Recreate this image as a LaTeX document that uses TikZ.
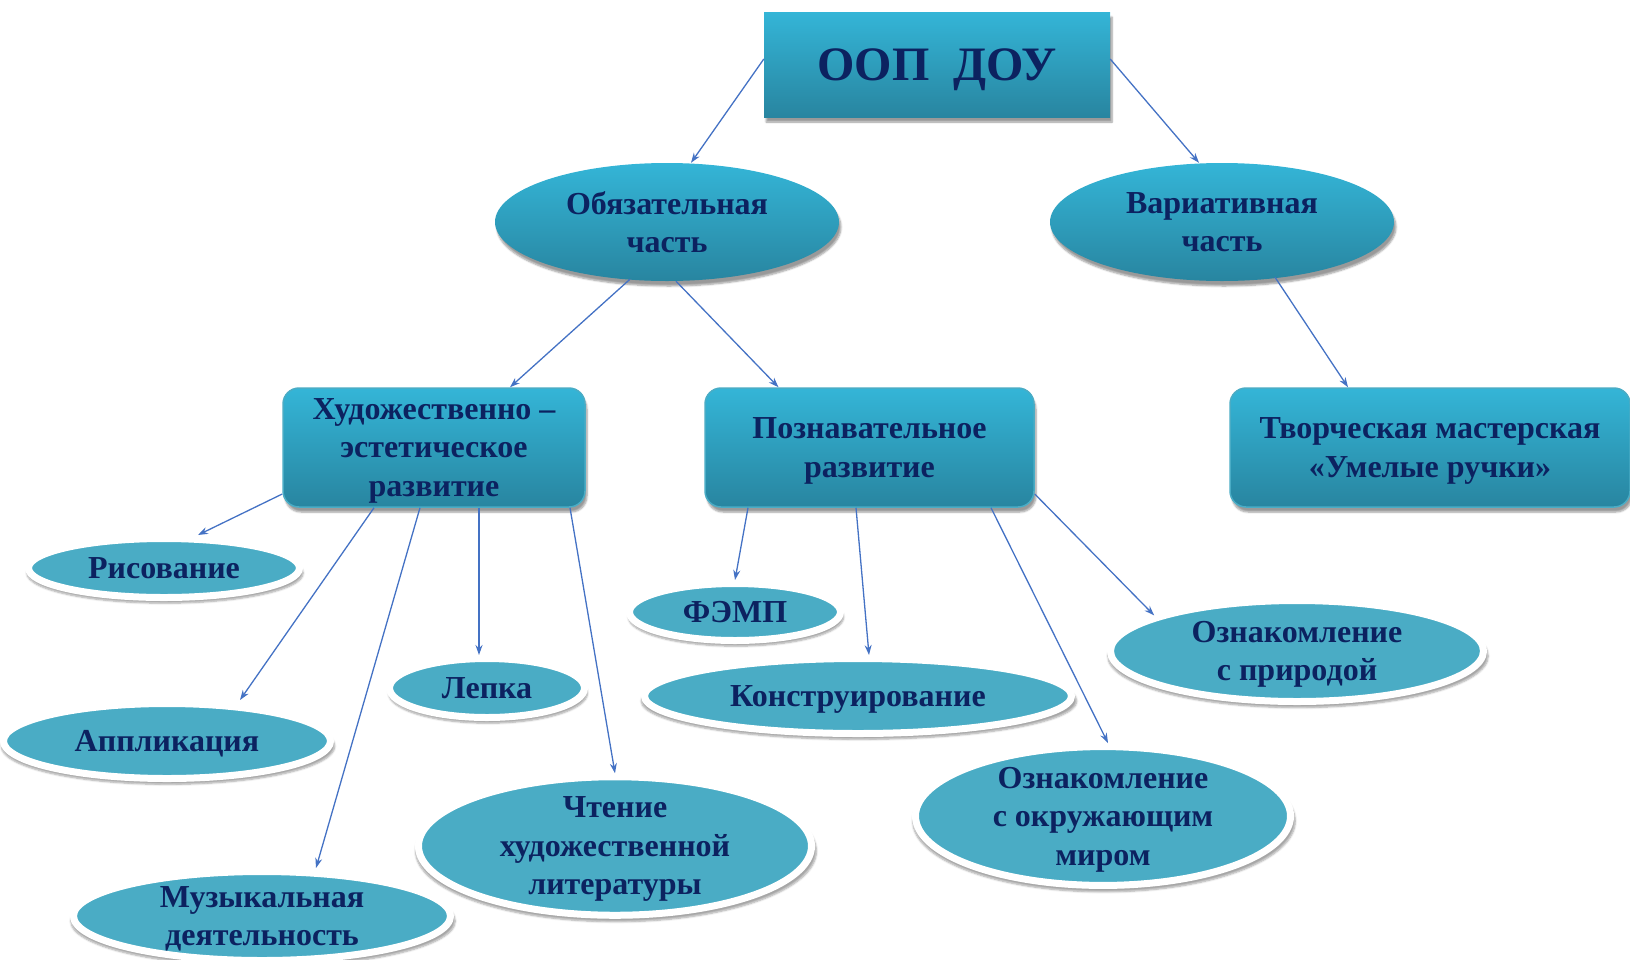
\documentclass[tikz,border=0pt]{standalone}
\usepackage{fontspec}
\setmainfont{Liberation Serif}
\usetikzlibrary{arrows.meta,shapes.geometric,shadows.blur}
\definecolor{boxtop}{RGB}{52,181,215}
\definecolor{boxbot}{RGB}{40,133,160}
\definecolor{leaf}{RGB}{74,172,197}
\definecolor{ink}{RGB}{12,34,96}
\definecolor{arrowblue}{RGB}{68,114,196}

\begin{document}
\begin{tikzpicture}[x=1pt,y=-1pt,>={Stealth[length=10pt,width=7pt]},
  font=\fontsize{32}{38.5}\selectfont\bfseries,text=ink,
  grad/.style={top color=boxtop,bottom color=boxbot,text depth=0pt,
    blur shadow={shadow xshift=2pt,shadow yshift=-5pt,shadow opacity=40,shadow blur steps=6}},
  mainbox/.style={grad,inner sep=0pt,minimum width=346,minimum height=105,
    font=\fontsize{48}{56}\selectfont\bfseries},
  partell/.style={ellipse,grad,inner sep=0pt,minimum width=344,minimum height=118,align=center},
  areabox/.style={grad,draw=leaf,line width=1.5pt,rounded corners=16pt,inner sep=0pt,
    minimum height=119,align=center},
  leafell/.style={ellipse,fill=leaf,draw=white,line width=7pt,inner sep=0pt,align=center,text depth=0pt,
    blur shadow={shadow xshift=1pt,shadow yshift=-5pt,shadow scale=1.02,shadow opacity=35,shadow blur steps=6}},
  arr/.style={->,draw=arrowblue,line width=1.3pt}]
\useasboundingbox (0,0) rectangle (1630,959);

\node[mainbox] (oop) at (937,64.5) {ООП\ \ ДОУ};
\node[partell] (obz) at (667,222) {Обязательная\\часть};
\node[partell] (var) at (1222,222) {Вариативная\\часть};

\node[areabox,minimum width=302] (hud) at (434,447.5) {Художественно –\\эстетическое\\развитие};
\node[areabox,minimum width=329] (poz) at (869.5,447.5) {Познавательное\\развитие};
\node[areabox,minimum width=400] (tvor) at (1430,447.5) {Творческая мастерская\\«Умелые ручки»};

\node[leafell,minimum width=271,minimum height=59] (ris) at (164,568) {Рисование};
\node[leafell,minimum width=327,minimum height=75] (app) at (167,741) {Аппликация};
\node[leafell,minimum width=195,minimum height=59] (lep) at (487,688) {Лепка};
\node[leafell,minimum width=377,minimum height=89] (mus) at (262,916) {Музыкальная\\деятельность};
\node[leafell,minimum width=393,minimum height=135] (cht) at (615,846) {Чтение\\художественной\\литературы};
\node[leafell,minimum width=211,minimum height=57] (femp) at (735,612) {ФЭМП};
\node[leafell,minimum width=427,minimum height=75] (kon) at (858,696) {Конструирование};
\node[leafell,minimum width=373,minimum height=101] (pri) at (1297,651) {Ознакомление\\с природой};
\node[leafell,minimum width=375,minimum height=135] (okr) at (1103,816) {Ознакомление\\с окружающим\\миром};

\draw[arr] ([yshift=5.5pt]oop.west) -- ([xshift=24pt]obz.north);
\draw[arr] ([yshift=5.5pt]oop.east) -- ([xshift=-23pt]var.north);
\draw[arr] ([xshift=-37pt,yshift=2pt]obz.south) -- ([xshift=76pt]hud.north);
\draw[arr] ([xshift=9pt]obz.south) -- ([xshift=-91pt]poz.north);
\draw[arr] ([xshift=53pt,yshift=4pt]var.south) -- ([xshift=-82pt]tvor.north);
\draw[arr] ([yshift=-46.5pt]hud.west) -- ([xshift=34pt]ris.north);
\draw[arr] ([xshift=-60pt]hud.south) -- ([xshift=73pt]app.north);
\draw[arr] ([xshift=-14pt]hud.south) -- ([xshift=54pt]mus.north);
\draw[arr] ([xshift=45pt]hud.south) -- ([xshift=-8pt]lep.north);
\draw[arr] ([xshift=136pt]hud.south) -- (cht.north);
\draw[arr] ([xshift=-121.5pt]poz.south) -- (femp.north);
\draw[arr] ([xshift=-13.5pt]poz.south) -- ([xshift=11pt]kon.north);
\draw[arr] ([xshift=121.5pt]poz.south) -- ([xshift=5pt]okr.north);
\draw[arr] ([yshift=-46.5pt]poz.east) -- (pri.166);
\end{tikzpicture}
\end{document}
